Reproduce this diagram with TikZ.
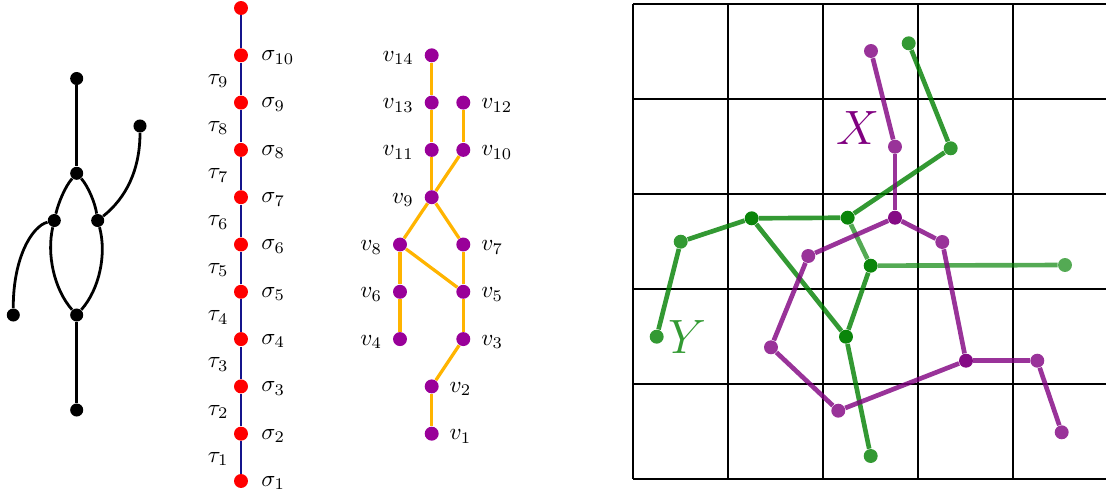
\documentclass[tikz,border=0pt]{standalone}
\usetikzlibrary{positioning,calc}
\definecolor{chainblue}{RGB}{20,20,140}
\definecolor{posetpurple}{RGB}{153,0,153}
\definecolor{posetorange}{RGB}{255,180,0}
\definecolor{walkpurple}{RGB}{128,0,128}
\definecolor{walkgreen}{RGB}{0,128,0}
\tikzset{
  gdot/.style={circle,fill=black,inner sep=0pt,minimum size=5.6pt},
  gedge/.style={draw=black,line width=1.2pt},
  sdot/.style={circle,fill=red,inner sep=0pt,minimum size=6pt},
  chainline/.style={draw=chainblue,line width=1.05pt},
  vdot/.style={circle,fill=posetpurple,inner sep=0pt,minimum size=6pt},
  posetedge/.style={draw=posetorange,line width=1.4pt},
  gridline/.style={draw=black,line width=0.45pt},
  xdot/.style={circle,fill=walkpurple,fill opacity=0.8,inner sep=0pt,minimum size=6pt},
  xjoint/.style={xdot,fill opacity=0.96},
  ydot/.style={circle,fill=walkgreen,fill opacity=0.8,inner sep=0pt,minimum size=6pt},
  yjoint/.style={ydot,fill opacity=0.96},
  ylight/.style={ydot,fill opacity=0.67},
  xwalk/.style={draw=walkpurple,draw opacity=0.8,line width=2pt},
  ywalk/.style={draw=walkgreen,draw opacity=0.8,line width=2pt},
  ywalklight/.style={ywalk,draw opacity=0.67}
}
\begin{document}
\begin{tikzpicture}[x=0.43pt,y=-0.43pt]
  \useasboundingbox (0,0) rectangle (1106,490);

  % graph on the left
  \node[gdot] (a) at (76.7,78.5) {};
  \node[gdot] (b) at (140,126) {};
  \node[gdot] (c) at (76.7,173.3) {};
  \node[gdot] (d) at (54.3,220.5) {};
  \node[gdot] (e) at (97.7,220.5) {};
  \node[gdot] (f) at (13.3,315) {};
  \node[gdot] (g) at (76.7,315) {};
  \node[gdot] (h) at (76.7,410) {};
  \draw[gedge] (a) -- (c);
  \draw[gedge] (g) -- (h);
  \draw[gedge] (c) .. controls (65,186.7) and (58.3,203.1) .. (d);
  \draw[gedge] (d) .. controls (46.6,254.1) and (53.9,289.1) .. (g);
  \draw[gedge] (c) .. controls (88.4,186.7) and (95.1,203.1) .. (e);
  \draw[gedge] (e) .. controls (106.8,254.1) and (99.5,289.1) .. (g);
  \draw[gedge] (b) .. controls (140,170) and (126,198) .. (e);
  \draw[gedge] (d) .. controls (32,226) and (13,258) .. (f);

  % chain of sigmas
  \foreach \i in {1,...,11}
    \node[sdot] (s\i) at (241,{481-47.3*(\i-1)}) {};
  \foreach \i [count=\j from 2] in {1,...,10}
    \draw[chainline] (s\i) -- (s\j);
  \foreach \i in {1,...,10}
    \node[right=2pt of s\i,yshift=-0.9pt] (ls\i) {$\sigma_{\i}$};
  \foreach \i [count=\j from 2] in {1,...,9}
    \node[anchor=east,xshift=-1.8pt,yshift=-0.8pt] (lt\i) at ($(s\i)!0.5!(s\j)$) {$\tau_{\i}$};

  % poset
  \foreach \n/\x/\k in {1/431.7/1,2/431.7/2,3/463.3/3,4/400/3,5/463.3/4,6/400/4,7/463.3/5,
                        8/400/5,9/431.7/6,10/463.3/7,11/431.7/7,12/463.3/8,13/431.7/8,14/431.7/9}
    \node[vdot] (v\n) at (\x,{481-47.3*\k}) {};
  \foreach \a/\b in {1/2,2/3,3/5,5/7,5/8,4/6,6/8,8/9,7/9,9/10,9/11,11/13,13/14,10/12}
    \draw[posetedge] (v\a) -- (v\b);
  \foreach \n in {4,6,8,9,11,13,14}
    \node[left=1pt of v\n,yshift=-1.2pt] (lv\n) {$v_{\n}$};
  \foreach \n in {1,2,3,5,7,10,12}
    \node[right=1pt of v\n,yshift=-1.2pt] (lv\n) {$v_{\n}$};

  % grid
  \foreach \i in {0,...,5}{
    \draw[gridline] ({633+95*\i},4) -- ({633+95*\i},479);
    \draw[gridline] (633,{4+95*\i}) -- (1108,{4+95*\i});
  }

  % walk Y
  \node[ydot] (y1) at (908.7,43.3) {};
  \node[ydot] (y2) at (950.7,148.3) {};
  \node[yjoint] (y3) at (847.7,217.7) {};
  \node[yjoint] (y4) at (751.7,218.3) {};
  \node[ydot] (y5) at (680.7,241.7) {};
  \node[ydot] (y6) at (656.7,336.7) {};
  \node[yjoint] (y7) at (870.7,265.7) {};
  \node[ylight] (y8) at (1065,265) {};
  \node[yjoint] (y9) at (846,336.7) {};
  \node[ydot] (y10) at (870.7,456) {};
  \foreach \a/\b in {1/2,2/3,3/4,4/5,5/6,4/9,7/9,9/10}
    \draw[ywalk] (y\a) -- (y\b);
  \draw[ywalklight] (y3) -- (y7);
  \draw[ywalklight] (y7) -- (y8);
  \node[text=walkgreen!80] (ly) at (687,336.7) {\huge $Y$};

  % walk X
  \node[xdot] (x1) at (871,51) {};
  \node[xdot] (x2) at (895,146.7) {};
  \node[xjoint] (x3) at (895,217.7) {};
  \node[xdot] (x4) at (942.3,242) {};
  \node[xjoint] (x5) at (966,360.7) {};
  \node[xdot] (x6) at (1037.3,360.7) {};
  \node[xdot] (x7) at (1061.7,432.3) {};
  \node[xdot] (x8) at (808.3,256) {};
  \node[xdot] (x9) at (771,347.3) {};
  \node[xdot] (x10) at (838.3,410.7) {};
  \foreach \a/\b in {1/2,2/3,3/4,4/5,5/6,6/7,3/8,8/9,9/10,10/5}
    \draw[xwalk] (x\a) -- (x\b);
  \node[text=walkpurple] (lx) at (858,128) {\huge $X$};
\end{tikzpicture}
\end{document}
